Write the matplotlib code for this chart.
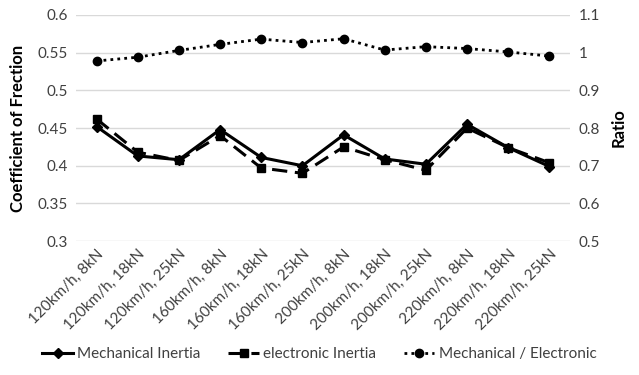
import matplotlib
matplotlib.use("Agg")
import matplotlib.pyplot as plt

plt.rcParams['font.family'] = ['Lato', 'DejaVu Sans']

cases = ['120km/h, 8kN', '120km/h, 18kN', '120km/h, 25kN',
         '160km/h, 8kN', '160km/h, 18kN', '160km/h, 25kN',
         '200km/h, 8kN', '200km/h, 18kN', '200km/h, 25kN',
         '220km/h, 8kN', '220km/h, 18kN', '220km/h, 25kN']
mech = [0.452, 0.413, 0.408, 0.448, 0.411, 0.400, 0.441, 0.409, 0.402, 0.455, 0.424, 0.399]
elec = [0.462, 0.418, 0.407, 0.440, 0.397, 0.390, 0.425, 0.408, 0.394, 0.450, 0.424, 0.404]
ratio = [0.978, 0.988, 1.006, 1.022, 1.036, 1.027, 1.037, 1.007, 1.016, 1.011, 1.002, 0.991]

fig = plt.figure(figsize=(6.39, 3.75), dpi=100)
ax = fig.add_axes([0.119, 0.357, 0.773, 0.603])
ax2 = ax.twinx()

x = list(range(len(cases)))
l1, = ax.plot(x, mech, color='black', lw=2.2, marker='D', ms=5, label='Mechanical Inertia')
l2, = ax.plot(x, elec, color='black', lw=2.2, ls=(0, (5, 2.5)), marker='s', ms=6, label='electronic Inertia')
l3, = ax2.plot(x, ratio, color='black', lw=2, ls=(0, (1, 1.5)), marker='o', ms=6, label='Mechanical / Electronic')

ax.set_ylim(0.3, 0.6)
ax.set_yticks([0.3, 0.35, 0.4, 0.45, 0.5, 0.55, 0.6])
ax.set_yticklabels(['0.3', '0.35', '0.4', '0.45', '0.5', '0.55', '0.6'])
ax2.set_ylim(0.5, 1.1)
ax2.set_yticks([0.5, 0.6, 0.7, 0.8, 0.9, 1.0, 1.1])
ax2.set_yticklabels(['0.5', '0.6', '0.7', '0.8', '0.9', '1', '1.1'])
ax.set_xlim(-0.5, len(cases) - 0.5)
ax.set_xticks(x)
ax.set_xticklabels(cases, rotation=45, ha='right', rotation_mode='anchor')

ax.grid(axis='y', color='#d9d9d9', lw=1)
ax.set_axisbelow(True)
for a in (ax, ax2):
    for s in a.spines.values():
        s.set_visible(False)
    a.tick_params(length=0, labelsize=11, colors='#404040', pad=6)
ax.tick_params(axis='x', pad=4)

ax.set_ylabel('Coefficient of Frection', fontsize=12, fontweight='bold', labelpad=8)
ax2.set_ylabel('Ratio', fontsize=12, fontweight='bold', labelpad=8)

leg = fig.legend(handles=[l1, l2, l3], loc='lower center', bbox_to_anchor=(0.5, 0.0),
                 ncol=3, frameon=False, fontsize=11, handlelength=2.0, columnspacing=1.8,
                 handletextpad=0.3)
for t in leg.get_texts():
    t.set_color('#404040')

fig.savefig('out.png', dpi=100)
